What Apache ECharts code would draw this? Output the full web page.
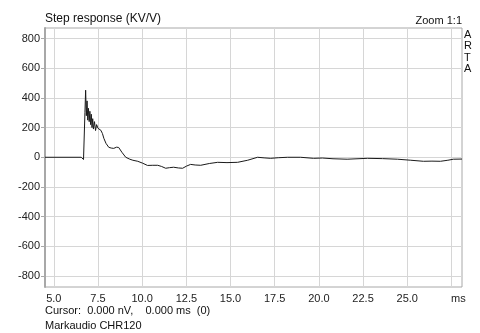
<!DOCTYPE html>
<html>
<head>
<meta charset="utf-8">
<script src="https://cdn.jsdelivr.net/npm/echarts@6/dist/echarts.min.js"></script>
<style>
  html, body { margin: 0; padding: 0; background: #fff; }
  #chart { width: 480px; height: 333px; }
</style>
</head>
<body>
<div id="chart"></div>
<script>
// Step response samples: time in ms, amplitude in KV/V
const timeMs = [
  4.5, 6.55, 6.62, 6.68, 6.72, 6.76, 6.80, 6.84, 6.88, 6.92, 6.96, 7.00, 7.04, 7.08,
  7.12, 7.16, 7.20, 7.24, 7.30, 7.36, 7.42, 7.50, 7.58, 7.66, 7.75, 7.83, 7.95, 8.11,
  8.25, 8.39, 8.55, 8.67, 8.85, 9.07, 9.30, 9.47, 9.75, 10.03, 10.30, 10.37, 10.60,
  10.88, 11.10, 11.33, 11.55, 11.78, 12.05, 12.29, 12.50, 12.74, 13.00, 13.31, 13.80,
  14.27, 14.80, 15.40, 15.97, 16.53, 16.90, 17.27, 17.70, 18.23, 18.96, 19.70, 20.20,
  20.80, 21.60, 22.75, 23.60, 24.45, 25.20, 25.92, 26.40, 26.88, 27.30, 27.61, 28.1
];
const stepValue = [
  0, 0, -10, -15, -5, 300, 452, 280, 380, 250, 330, 240, 310, 220,
  290, 200, 260, 190, 240, 180, 220, 195, 200, 182, 160, 128, 94, 67,
  62, 60, 68, 66, 34, 0, -13, -20, -27, -40, -55, -60, -54,
  -54, -62, -74, -70, -67, -72, -74, -60, -48, -52, -54, -42,
  -34, -36, -34, -20, 0, -4, -7, -3, 0, 0, -7, -5,
  -10, -13, -7, -9, -13, -20, -27, -26, -27, -20, -13, -12
];

// Axis ticks and their labels
const xTicks = [5.0, 7.5, 10.0, 12.5, 15.0, 17.5, 20.0, 22.5, 25.0, 27.5];
const xTickLabels = ['5.0', '7.5', '10.0', '12.5', '15.0', '17.5', '20.0', '22.5', '25.0', 'ms'];
const yTicks = [-800, -600, -400, -200, 0, 200, 400, 600, 800];

const FONT = 'Liberation Sans, Arial, sans-serif';
const chart = echarts.init(document.getElementById('chart'), null, { renderer: 'canvas' });

chart.setOption({
  animation: false,
  backgroundColor: '#fff',
  grid: {
    left: 45, right: 18, top: 28, bottom: 46,
    show: true, borderColor: '#a8a8a8', borderWidth: 1
  },
  xAxis: {
    type: 'value',
    min: 4.5, max: 28.1,
    axisLine: { show: false },
    axisTick: { show: false, customValues: xTicks },
    splitLine: { show: true, lineStyle: { color: '#d6d6d6', width: 1 } },
    axisLabel: {
      customValues: xTicks,
      margin: 6,
      color: '#222', fontFamily: FONT, fontSize: 11,
      formatter: function (v) {
        const i = xTicks.indexOf(v);
        const t = i >= 0 ? xTickLabels[i] : '';
        return t === 'ms' ? '{u|ms}' : t;
      },
      rich: { u: { padding: [0, 0, 0, 14], color: '#222', fontFamily: FONT, fontSize: 11 } }
    }
  },
  yAxis: {
    type: 'value',
    min: -874, max: 871,
    axisLine: { show: true, onZero: false, lineStyle: { color: '#a8a8a8', width: 2 } },
    axisTick: { show: true, inside: false, length: 4, customValues: yTicks, lineStyle: { color: '#a8a8a8' } },
    splitLine: { show: true, lineStyle: { color: '#d6d6d6', width: 1 } },
    axisLabel: {
      customValues: yTicks,
      margin: 5,
      color: '#222', fontFamily: FONT, fontSize: 11,
      formatter: function (v) { return String(v); }
    }
  },
  series: [{
    type: 'line',
    data: timeMs.map(function (t, i) { return [t, stepValue[i]]; }),
    showSymbol: false,
    lineStyle: { color: '#1a1a1a', width: 1 },
    z: 5
  }],
  graphic: [
    { type: 'text', left: 45, top: 13, style: { text: 'Step response (KV/V)', font: '12px ' + FONT, fill: '#111' } },
    { type: 'text', right: 18, top: 15, style: { text: 'Zoom 1:1', font: '11px ' + FONT, fill: '#111' } },
    { type: 'text', left: 464, top: 29, style: { text: 'A\nR\nT\nA', font: '11px ' + FONT, fill: '#111', lineHeight: 11.5 } },
    { type: 'text', left: 45, top: 305, style: { text: 'Cursor:  0.000 nV,    0.000 ms  (0)', font: '11px ' + FONT, fill: '#111' } },
    { type: 'text', left: 45, top: 320, style: { text: 'Markaudio CHR120', font: '11px ' + FONT, fill: '#111' } }
  ]
});
</script>
</body>
</html>
